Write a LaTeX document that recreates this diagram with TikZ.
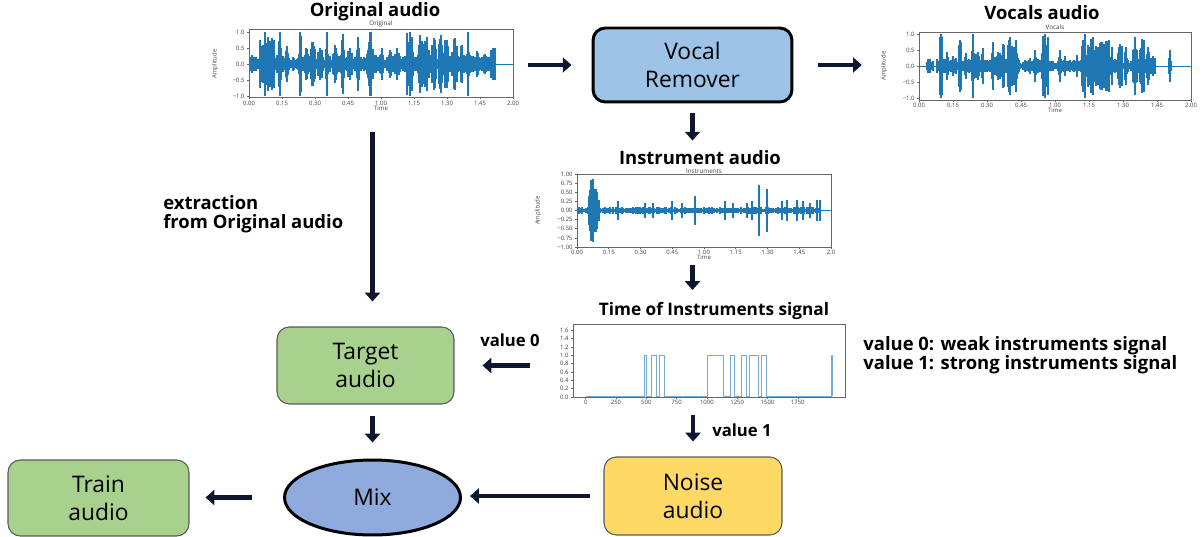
\documentclass[tikz,border=0pt]{standalone}
\usepackage{fontspec}
\setmainfont{Open Sans}
\usetikzlibrary{arrows.meta,positioning,shapes.geometric}

\definecolor{mplblue}{RGB}{31,119,180}
\definecolor{steplight}{RGB}{120,170,215}
\definecolor{arrowdark}{RGB}{14,22,48}
\definecolor{remblue}{RGB}{157,195,230}
\definecolor{boxgreen}{RGB}{169,209,142}
\definecolor{mixblue}{RGB}{143,170,220}
\definecolor{noiseyellow}{RGB}{255,217,102}

\tikzset{
  bigarrow/.style={line width=2.8pt, draw=arrowdark, -{Triangle[width=8.5pt,length=5pt]}},
  procbox/.style={rounded corners=7pt, align=center, inner sep=0pt,
    font=\fontsize{13}{16}\selectfont},
  softbox/.style={procbox, draw=black!65, line width=0.6pt},
  plottitle/.style={font=\bfseries\fontsize{10.5}{12}\selectfont, inner sep=0pt},
  note/.style={font=\bfseries\fontsize{9.5}{11}\selectfont, align=left, inner sep=0pt},
  plotframe/.style={draw=black!60, line width=0.3pt, inner sep=0pt},
  wave/.style={mplblue, line width=0.6pt},
  ticklab/.style={font=\fontsize{3.4}{4}\selectfont, inner sep=0pt, text=black!75},
}

\begin{document}
\begin{tikzpicture}[x=0.02cm, y=-0.02cm]
\useasboundingbox (0,0) rectangle (1203,537);
\pgfmathsetseed{11}

% ---- plot frames
\node[plotframe, minimum width=5.28cm, minimum height=1.36cm] (origplot) at (381,63) {};
\node[plotframe, minimum width=5.44cm, minimum height=1.36cm] (vocplot) at (1055,66) {};
\node[plotframe, minimum width=5.08cm, minimum height=1.46cm] (instplot) at (704,210.5) {};
\node[plotframe, minimum width=5.44cm, minimum height=1.46cm] (sigplot) at (709,360.5) {};

% ---- titles
\node[plottitle] (origtitle) at (375,12) {Original audio};
\node[plottitle] (voctitle) at (1042,13) {Vocals audio};
\node[plottitle] (insttitle) at (700,158) {Instrument audio};
\node[plottitle, font=\bfseries\fontsize{9.8}{12}\selectfont] (sigtitle) at (714,311) {Time of Instruments signal};

% ---- original waveform
\draw[mplblue, line width=0.3pt] (249,64) -- (513,64);
\foreach \x in {251,...,493} {
  \pgfmathsetmacro\a{32*(0.08+0.22*rnd)}
  \draw[wave] (\x,64-\a) -- (\x,64+\a);
}
\foreach \c/\w/\h in {265/5/1.0, 272/2/0.8, 280/1/1.0, 287/2/0.55, 300/1/1.0, 306/2/0.5,
  313/2/0.7, 320/2/0.5, 327/1/1.0, 335/2/0.6, 343/1/0.95, 350/2/0.5, 358/1/0.85,
  370/3/1.0, 382/1/0.5, 390/2/0.45, 397/2/0.5, 410/3/1.0, 420/2/0.9, 427/3/0.85,
  434/2/0.8, 441/2/0.9, 447/2/0.75, 455/3/0.8, 462/2/0.6, 468/1/1.0, 477/2/0.4,
  485/2/0.3, 493/2/0.5} {
  \draw[wave] (\c,64-32*\h) -- (\c,64+32*\h);
  \foreach \d in {-\w,...,\w} {
    \pgfmathsetmacro\a{32*\h*(0.3+0.7*rnd)}
    \draw[wave] (\c+\d,64-\a) -- (\c+\d,64+\a);
  }
}
\node[ticklab, font=\fontsize{3.6}{4}\selectfont] at (381,24) {Original};
\foreach \v/\y in {1.0/32, 0.5/48, 0.0/64, −0.5/80, −1.0/96} {
  \draw[black!60, line width=0.3pt] (249,\y) -- (247,\y);
  \node[ticklab, anchor=east] at (245,\y) {\v};
}
\foreach \t [count=\k from 0] in {0.00,0.15,0.30,0.45,1.00,1.15,1.30,1.45,2.00} {
  \draw[black!60, line width=0.3pt] (249+33*\k,97) -- (249+33*\k,99);
  \node[ticklab] at (249+33*\k,103) {\t};
}
\node[ticklab] at (381,108) {Time};
\node[ticklab, rotate=90] at (215,64) {Amplitude};

% ---- vocals waveform
\draw[mplblue, line width=0.3pt] (919,66) -- (1191,66);
\foreach \x in {937,...,1155} {
  \pgfmathsetmacro\a{32*(0.06+0.18*rnd)}
  \draw[wave] (\x,66-\a) -- (\x,66+\a);
}
\foreach \c/\w/\h in {930/3/0.22, 941/1/1.0, 947/1/0.45, 953/2/0.3, 960/1/0.8, 966/2/0.4,
  973/1/1.0, 978/2/0.45, 983/1/0.55, 993/1/0.75, 998/2/0.45, 1003/1/0.7, 1010/2/0.9,
  1016/2/0.8, 1035/1/0.5, 1045/3/1.0, 1060/1/0.5, 1065/1/0.3, 1077/1/0.35,
  1085/3/1.0, 1093/3/0.9, 1101/3/0.75, 1109/3/0.8, 1120/2/0.7, 1126/1/0.6,
  1135/2/0.9, 1142/2/0.85, 1148/1/0.6, 1153/2/0.3, 1170/1/0.5} {
  \draw[wave] (\c,66-32*\h) -- (\c,66+32*\h);
  \foreach \d in {-\w,...,\w} {
    \pgfmathsetmacro\a{32*\h*(0.3+0.7*rnd)}
    \draw[wave] (\c+\d,66-\a) -- (\c+\d,66+\a);
  }
}
\node[ticklab, font=\fontsize{3.6}{4}\selectfont] at (1055,27) {Vocals};
\foreach \v/\y in {1.0/34, 0.5/50, 0.0/66, −0.5/82, −1.0/98} {
  \draw[black!60, line width=0.3pt] (919,\y) -- (917,\y);
  \node[ticklab, anchor=east] at (915,\y) {\v};
}
\foreach \t [count=\k from 0] in {0.00,0.15,0.30,0.45,1.00,1.15,1.30,1.45,2.00} {
  \draw[black!60, line width=0.3pt] (919+34*\k,100) -- (919+34*\k,102);
  \node[ticklab] at (919+34*\k,105) {\t};
}
\node[ticklab] at (1055,110) {Time};
\node[ticklab, rotate=90] at (884,66) {Amplitude};

% ---- instrument waveform
\draw[mplblue, line width=0.3pt] (577,210.5) -- (831,210.5);
\foreach \x in {578,...,820} {
  \pgfmathsetmacro\a{36.5*(0.03+0.07*rnd)}
  \draw[wave] (\x,210.5-\a) -- (\x,210.5+\a);
}
\foreach \c/\w/\h in {591/2/0.9, 595/2/0.85} {
  \foreach \d in {-\w,...,\w} {
    \pgfmathsetmacro\a{36.5*\h*(0.4+0.6*rnd)}
    \draw[wave] (\c+\d,210.5-\a) -- (\c+\d,210.5+\a);
  }
}
\foreach \c/\h in {599/0.3, 618/0.25, 645/0.2, 653/0.2, 672/0.25, 682/0.2, 695/0.4,
  725/0.25, 733/0.2, 747/0.2, 752/0.25, 759/0.7, 767/0.6, 782/0.25, 787/0.3,
  797/0.3, 803/0.25, 810/0.2, 817/0.3, 820/0.3} {
  \draw[wave, line width=1pt] (\c,210.5-36.5*\h) -- (\c,210.5+36.5*\h);
}
\node[ticklab, font=\fontsize{3.6}{4}\selectfont] at (704,171.5) {Instruments};
\foreach \v [count=\k from 0] in {1.00,0.75,0.50,0.25,0.00,−0.25,−0.50,−0.75,−1.00} {
  \draw[black!60, line width=0.3pt] (577,174+9.125*\k) -- (575,174+9.125*\k);
  \node[ticklab, anchor=east] at (573,174+9.125*\k) {\v};
}
\foreach \t [count=\k from 0] in {0.00,0.15,0.30,0.45,1.00,1.15,1.30,1.45,2.0} {
  \draw[black!60, line width=0.3pt] (577+31.75*\k,247) -- (577+31.75*\k,249);
  \node[ticklab] at (577+31.75*\k,252) {\t};
}
\node[ticklab] at (704,257) {Time};
\node[ticklab, rotate=90] at (538,210.5) {Amplitude};

% ---- instruments signal (0/1)
\draw[steplight, line width=0.5pt] (586,396) -- (644,396) -- (644,355) -- (646.5,355) -- (646.5,396)
  -- (651,396) -- (651,355) -- (656,355) -- (656,396) -- (659,396) -- (659,355) -- (664,355) -- (664,396)
  -- (707,396) -- (707,355) -- (723,355) -- (723,396) -- (730,396) -- (730,355) -- (734.5,355) -- (734.5,396)
  -- (741,396) -- (741,355) -- (746,355) -- (746,396) -- (749,396) -- (749,355) -- (758,355) -- (758,396)
  -- (761,396) -- (761,355) -- (766.5,355) -- (766.5,396) -- (831,396) -- (831,355) -- (832,355) -- (832,396);
\foreach \v [count=\k from 0] in {0.0,0.2,0.4,0.6,0.8,1.0,1.2,1.4,1.6} {
  \draw[black!60, line width=0.3pt] (573,397-8.33*\k) -- (571,397-8.33*\k);
  \node[ticklab, anchor=east] at (569,397-8.33*\k) {\v};
}
\foreach \t [count=\k from 0] in {0,250,500,750,1000,1250,1500,1750} {
  \draw[black!60, line width=0.3pt] (585.7+30.3*\k,397) -- (585.7+30.3*\k,399);
  \node[ticklab] at (585.7+30.3*\k,402) {\t};
}

% ---- boxes
\node[procbox, draw=black, line width=1.7pt, fill=remblue, minimum width=3.98cm, minimum height=1.48cm]
  (remover) at (692.5,65) {Vocal\\Remover};
\node[softbox, fill=boxgreen, minimum width=3.54cm, minimum height=1.54cm] (target) at (365.5,365.5) {Target\\audio};
\node[softbox, fill=noiseyellow, minimum width=3.56cm, minimum height=1.56cm] (noise) at (693,496) {Noise\\audio};
\node[softbox, fill=boxgreen, minimum width=3.62cm, minimum height=1.52cm] (train) at (98.5,498) {Train\\audio};
\node[ellipse, draw=black, line width=1.7pt, fill=mixblue, minimum width=3.52cm, minimum height=1.5cm,
  font=\fontsize{13}{16}\selectfont] (mix) at (372.5,497.5) {Mix};

% ---- notes
\node[note] (val0) at (510,340) {value 0};
\node[note] (val1) at (742,430) {value 1};
\node[note, anchor=west, font=\bfseries\fontsize{10.5}{10.5}\selectfont] (extract) at (163,214) {extraction\\from Original audio};
\node[note, anchor=west, font=\bfseries\fontsize{10.5}{11}\selectfont] (legend) at (863,355) {value 0: weak instruments signal\\value 1: strong instruments signal};

% ---- arrows
\draw[bigarrow, shorten <=0.3cm, shorten >=0.4cm] (origplot.east |- remover.west) -- (remover.west);
\draw[bigarrow, shorten <=0.5cm, shorten >=1.14cm] (remover.east) -- (remover.east -| vocplot.west);
\draw[bigarrow, shorten <=0.2cm, shorten >=0.2cm] (remover.south) -- (remover.south |- insttitle.north);
\draw[bigarrow, shorten <=0.36cm, shorten >=0.24cm] (remover.south |- instplot.south) -- (remover.south |- sigtitle.north);
\draw[bigarrow, shorten <=0.86cm, shorten >=0.56cm] (sigplot.west |- target.east) -- (target.east);
\draw[bigarrow, shorten <=0.36cm, shorten >=0.3cm] (noise.north |- sigplot.south) -- (noise.north);
\draw[bigarrow, shorten <=0.7cm, shorten >=0.5cm] (mix.north |- origplot.south) -- (mix.north |- target.north);
\draw[bigarrow, shorten <=0.22cm, shorten >=0.32cm] (mix.north |- target.south) -- (mix.north);
\draw[bigarrow, shorten <=0.28cm, shorten >=0.16cm] (noise.west) -- (noise.west -| mix.east);
\draw[bigarrow, shorten <=0.62cm, shorten >=0.32cm] (mix.west) -- (mix.west -| train.east);
\end{tikzpicture}
\end{document}
